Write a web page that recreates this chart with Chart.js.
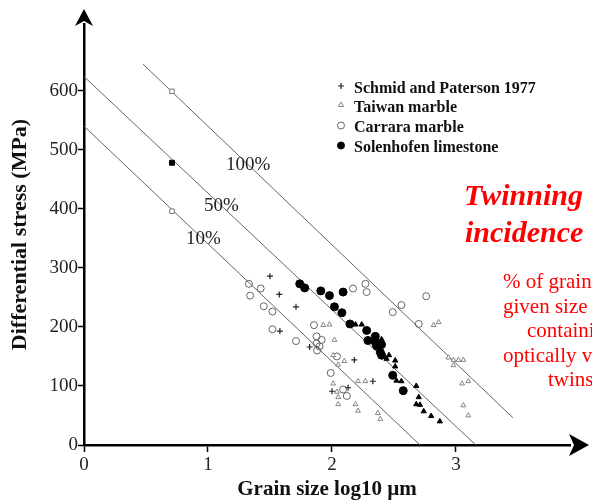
<!DOCTYPE html>
<html>
<head>
<meta charset="utf-8">
<script src="https://cdn.jsdelivr.net/npm/chart.js@4.4.0/dist/chart.umd.min.js"></script>
<style>
  html, body { margin: 0; padding: 0; background: #fff; }
  canvas { display: block; }
</style>
</head>
<body>
<canvas id="chart" width="592" height="500"></canvas>
<script>
// grain size (log10 um) and differential stress (MPa)
const schmidX = [1.50, 1.575, 1.71, 1.58, 1.82, 2.18, 2.33, 2.13, 2.00];
const schmidY = [286, 255, 234, 193, 166, 144, 108, 97, 91];

const taiwanX = [1.93, 1.98, 2.02, 2.01, 2.10, 2.05, 2.21, 2.27, 2.01, 2.04, 2.05, 2.05, 2.19, 2.21, 2.37, 2.39,
                 2.82, 2.86, 2.94, 2.98, 3.02, 3.06, 2.98, 3.05, 3.10, 3.06, 3.10];
const taiwanY = [203, 204, 178, 152, 142, 136, 108, 108, 104, 90, 81, 69, 69, 58, 54, 44,
                 203, 208, 148, 144, 144, 144, 135, 104, 108, 67, 50];

const carraraX = [1.33, 1.34, 1.425, 1.45, 1.52, 1.52, 1.71, 1.855, 1.876, 1.917, 1.876, 1.90, 1.88, 2.04,
                  1.99, 2.09, 2.12, 2.17, 2.27, 2.28, 2.56, 2.49, 2.70, 2.76];
const carraraY = [273, 253, 265, 235, 226, 196, 176, 203, 184, 178, 172, 167, 160, 150,
                  122, 94, 83, 265, 273, 259, 237, 225, 205, 252];

const solenX = [1.74, 1.78, 1.91, 1.98, 2.09, 2.02, 2.08, 2.145, 2.28, 2.29, 2.35, 2.35, 2.40, 2.36, 2.39, 2.40, 2.49, 2.575];
const solenY = [273, 266, 261, 253, 259, 234, 224, 205, 194, 177, 184, 174, 170, 168, 157, 152, 118, 92];

// filled triangles (not in the legend)
const solidTriX = [2.19, 2.24, 2.40, 2.44, 2.46, 2.51, 2.51, 2.52, 2.56, 2.68, 2.70, 2.68, 2.71, 2.74, 2.80, 2.87];
const solidTriY = [204, 204, 179, 146, 152, 143, 133, 109, 108, 100, 81, 69, 68, 57, 49, 40];

const openSquareX = [0.71, 0.71];
const openSquareY = [599, 396];
const solidSquareX = [0.71];
const solidSquareY = [478];

// twinning incidence lines
const line10X = [0, 2.71];
const line10Y = [540, 0];
const line50X = [0, 3.16];
const line50Y = [624, 0];
const line100X = [0.476, 3.46];
const line100Y = [645, 46];

const xTicks = [0, 1, 2, 3];
const yTicks = [0, 100, 200, 300, 400, 500, 600];

const pts = (xs, ys) => xs.map((x, i) => ({ x: x, y: ys[i] }));

const serif = "'Liberation Serif', 'Times New Roman', serif";

function drawMark(ctx, style, x, y, r, fill, stroke, lw) {
  ctx.save();
  ctx.lineWidth = lw;
  ctx.strokeStyle = stroke;
  ctx.fillStyle = fill;
  ctx.beginPath();
  if (style === 'cross') {
    ctx.moveTo(x - r, y); ctx.lineTo(x + r, y);
    ctx.moveTo(x, y - r); ctx.lineTo(x, y + r);
    ctx.stroke();
  } else if (style === 'triangle') {
    ctx.moveTo(x, y - r);
    ctx.lineTo(x + r * 0.87, y + r * 0.5);
    ctx.lineTo(x - r * 0.87, y + r * 0.5);
    ctx.closePath();
    ctx.fill(); ctx.stroke();
  } else {
    ctx.arc(x, y, r, 0, Math.PI * 2);
    ctx.fill(); ctx.stroke();
  }
  ctx.restore();
}

const decor = {
  id: 'decor',
  afterDraw(chart) {
    const ctx = chart.ctx;
    const { left, bottom, right, top } = chart.chartArea;
    ctx.save();

    // arrow heads on the axes
    ctx.fillStyle = '#000';
    ctx.beginPath();
    ctx.moveTo(left, 9);
    ctx.lineTo(left + 9, top + 2);
    ctx.lineTo(left, top - 3);
    ctx.lineTo(left - 9, top + 2);
    ctx.closePath();
    ctx.fill();
    ctx.beginPath();
    ctx.moveTo(589, bottom);
    ctx.lineTo(right - 1, bottom - 11);
    ctx.lineTo(right + 4, bottom);
    ctx.lineTo(right - 1, bottom + 11);
    ctx.closePath();
    ctx.fill();

    // line labels
    ctx.fillStyle = '#222';
    ctx.font = '19px ' + serif;
    ctx.textBaseline = 'alphabetic';
    ctx.textAlign = 'left';
    ctx.fillText('100%', 226, 170);
    ctx.fillText('50%', 204, 211);
    ctx.fillText('10%', 186, 244);

    // legend
    const rows = [
      ['Schmid and Paterson 1977', 'cross', 3, 'rgba(0,0,0,0)', '#222', 1.2, 86],
      ['Taiwan marble', 'triangle', 3, '#fff', '#777', 0.9, 105],
      ['Carrara marble', 'circle', 3.5, '#fff', '#666', 1, 125.5],
      ['Solenhofen limestone', 'circle', 3.5, '#000', '#000', 1, 145.5]
    ];
    ctx.font = 'bold 16px ' + serif;
    ctx.textBaseline = 'middle';
    rows.forEach(r => {
      drawMark(ctx, r[1], 341, r[6], r[2], r[3], r[4], r[5]);
      ctx.fillStyle = '#111';
      ctx.fillText(r[0], 354, r[6] + 2.5);
    });

    // red annotation
    ctx.fillStyle = '#ff0000';
    ctx.textBaseline = 'alphabetic';
    ctx.font = 'italic bold 30px ' + serif;
    ctx.fillText('Twinning', 464, 205);
    ctx.fillText('incidence', 465, 242);
    ctx.font = '21px ' + serif;
    ctx.fillText('% of grains of a', 503, 288);
    ctx.fillText('given size class', 503, 312.5);
    ctx.fillText('containing', 527, 337);
    ctx.fillText('optically visible', 503, 361.5);
    ctx.fillText('twins', 548, 386);
    ctx.restore();
  }
};

const lineStyle = {
  showLine: true, pointRadius: 0, borderColor: '#666', borderWidth: 1, fill: false
};

new Chart(document.getElementById('chart'), {
  type: 'scatter',
  data: {
    datasets: [
      { label: 'Schmid and Paterson 1977', data: pts(schmidX, schmidY), pointStyle: 'cross',
        pointRadius: 3, borderColor: '#222', borderWidth: 1.2 },
      { label: 'Taiwan marble', data: pts(taiwanX, taiwanY), pointStyle: 'triangle',
        pointRadius: 2.8, borderColor: '#777', backgroundColor: '#fff', borderWidth: 0.9 },
      { label: 'Carrara marble', data: pts(carraraX, carraraY), pointStyle: 'circle',
        pointRadius: 3.5, borderColor: '#666', backgroundColor: 'rgba(255,255,255,0)', borderWidth: 1 },
      { label: 'Solenhofen limestone', data: pts(solenX, solenY), pointStyle: 'circle',
        pointRadius: 4, borderColor: '#000', backgroundColor: '#000', borderWidth: 1 },
      { label: 'filled triangles', data: pts(solidTriX, solidTriY), pointStyle: 'triangle',
        pointRadius: 3, borderColor: '#000', backgroundColor: '#000', borderWidth: 1 },
      { label: 'open squares', data: pts(openSquareX, openSquareY), pointStyle: 'rect',
        pointRadius: 3.2, borderColor: '#777', backgroundColor: '#fff', borderWidth: 1 },
      { label: 'filled square', data: pts(solidSquareX, solidSquareY), pointStyle: 'rect',
        pointRadius: 3.5, borderColor: '#000', backgroundColor: '#000', borderWidth: 1 },
      { label: '100%', data: pts(line100X, line100Y), ...lineStyle },
      { label: '50%', data: pts(line50X, line50Y), ...lineStyle },
      { label: '10%', data: pts(line10X, line10Y), ...lineStyle }
    ]
  },
  options: {
    responsive: false,
    animation: false,
    devicePixelRatio: 1,
    layout: { padding: { top: 24, right: 22, left: 0, bottom: 0 } },
    plugins: {
      legend: { display: false },
      tooltip: { enabled: false }
    },
    scales: {
      x: {
        type: 'linear', position: 'bottom', min: 0, max: 3.92,
        border: { color: '#000', width: 2.5 },
        grid: { drawOnChartArea: false, drawTicks: true, tickLength: 7, tickColor: '#000', tickWidth: 1.5 },
        ticks: { stepSize: 1, autoSkip: false, maxRotation: 0, padding: 2, color: '#222',
                 font: { family: serif, size: 19 } },
        afterBuildTicks: axis => { axis.ticks = xTicks.map(v => ({ value: v })); },
        afterFit: s => { s.height = 55; },
        title: { display: true, text: 'Grain size log10 µm', color: '#111', padding: 0,
                 font: { family: serif, size: 21, weight: 'bold', lineHeight: 1 } }
      },
      y: {
        type: 'linear', position: 'left', min: 0, max: 713,
        border: { color: '#000', width: 2.5 },
        grid: { drawOnChartArea: false, drawTicks: true, tickLength: 6, tickColor: '#000', tickWidth: 1.5 },
        ticks: { stepSize: 100, autoSkip: false, padding: 0, color: '#222',
                 font: { family: serif, size: 19 } },
        afterBuildTicks: axis => { axis.ticks = yTicks.map(v => ({ value: v })); },
        afterFit: s => { s.width = 84; },
        title: { display: true, text: 'Differential stress (MPa)', color: '#111',
                 padding: { top: 9, bottom: 0 },
                 font: { family: serif, size: 22, weight: 'bold', lineHeight: 1 } }
      }
    }
  },
  plugins: [decor]
});
</script>
</body>
</html>
